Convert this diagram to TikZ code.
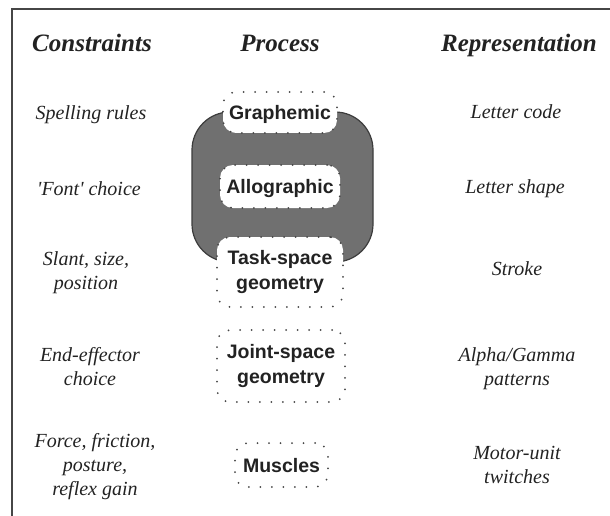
\documentclass[tikz,border=0pt]{standalone}
\usepackage{fontspec}
\setmainfont{Liberation Serif}
\newfontfamily\procfont{Liberation Sans}
\definecolor{txt}{RGB}{34,34,34}
\definecolor{framec}{RGB}{70,70,70}
\definecolor{blobfill}{RGB}{112,112,112}
\definecolor{blobline}{RGB}{60,60,60}
\definecolor{dotc}{RGB}{70,70,70}
\begin{document}
\begin{tikzpicture}[x=1pt,y=-1pt,
  head/.style={font=\fontsize{25}{30}\selectfont\bfseries\itshape, text=txt, anchor=base, inner sep=0pt},
  lab/.style={font=\fontsize{20}{24}\selectfont\itshape, text=txt, align=center, anchor=base, inner sep=0pt},
  procbox/.style={draw=dotc, line width=2pt, line cap=round, dash pattern=on 0pt off 11.5pt,
    fill=white, rounded corners=13pt, inner sep=0pt, align=center, text=txt,
    font=\procfont\bfseries\fontsize{19.5}{25}\selectfont},
  blob/.style={fill=blobfill, draw=blobline, line width=1.2pt, rounded corners=38pt}]
\useasboundingbox (0,0) rectangle (610,516);
% frame
\draw[framec, line width=1.5pt] (12,516) -- (12,9);
\draw[framec, line width=2.5pt] (11.25,9) -- (610,9);
% headings
\node[head] (hc) at (92,52) {Constraints};
\node[head] (hp) at (280,52) {Process};
\node[head] (hr) at (519,52) {Representation};
% dark grey region
\draw[blob] (192,112) rectangle (373,262);
% process boxes
\node[procbox, minimum width=114pt, minimum height=41pt, text height=14pt, text depth=0pt] (p1) at (280,112.5) {Graphemic};
\node[procbox, minimum width=120pt, minimum height=43pt, text height=14pt, text depth=0pt] (p2) at (280,186.5) {Allographic};
\node[procbox, minimum width=126pt, minimum height=70pt] (p3) at (280,272) {Task-space\\geometry};
\node[procbox, minimum width=128pt, minimum height=72pt] (p4) at (281,366) {Joint-space\\geometry};
\node[procbox, minimum width=93pt, minimum height=44pt, text height=14pt, text depth=0pt] (p5) at (281.5,465) {Muscles};
% constraints (base = baseline of last line)
\node[lab] (c1) at (91,120) {Spelling rules};
\node[lab] (c2) at (89,195) {\textquotesingle Font\textquotesingle{} choice};
\node[lab] (c3) at (86,289) {Slant, size,\\position};
\node[lab] (c4) at (90,385) {End-effector\\choice};
\node[lab] (c5) at (95,495) {Force, friction,\\posture,\\reflex gain};
% representations
\node[lab] (r1) at (516,118) {Letter code};
\node[lab] (r2) at (515,193) {Letter shape};
\node[lab] (r3) at (517,275) {Stroke};
\node[lab] (r4) at (517,385) {Alpha/Gamma\\patterns};
\node[lab] (r5) at (517,483) {Motor-unit\\twitches};
\end{tikzpicture}
\end{document}
